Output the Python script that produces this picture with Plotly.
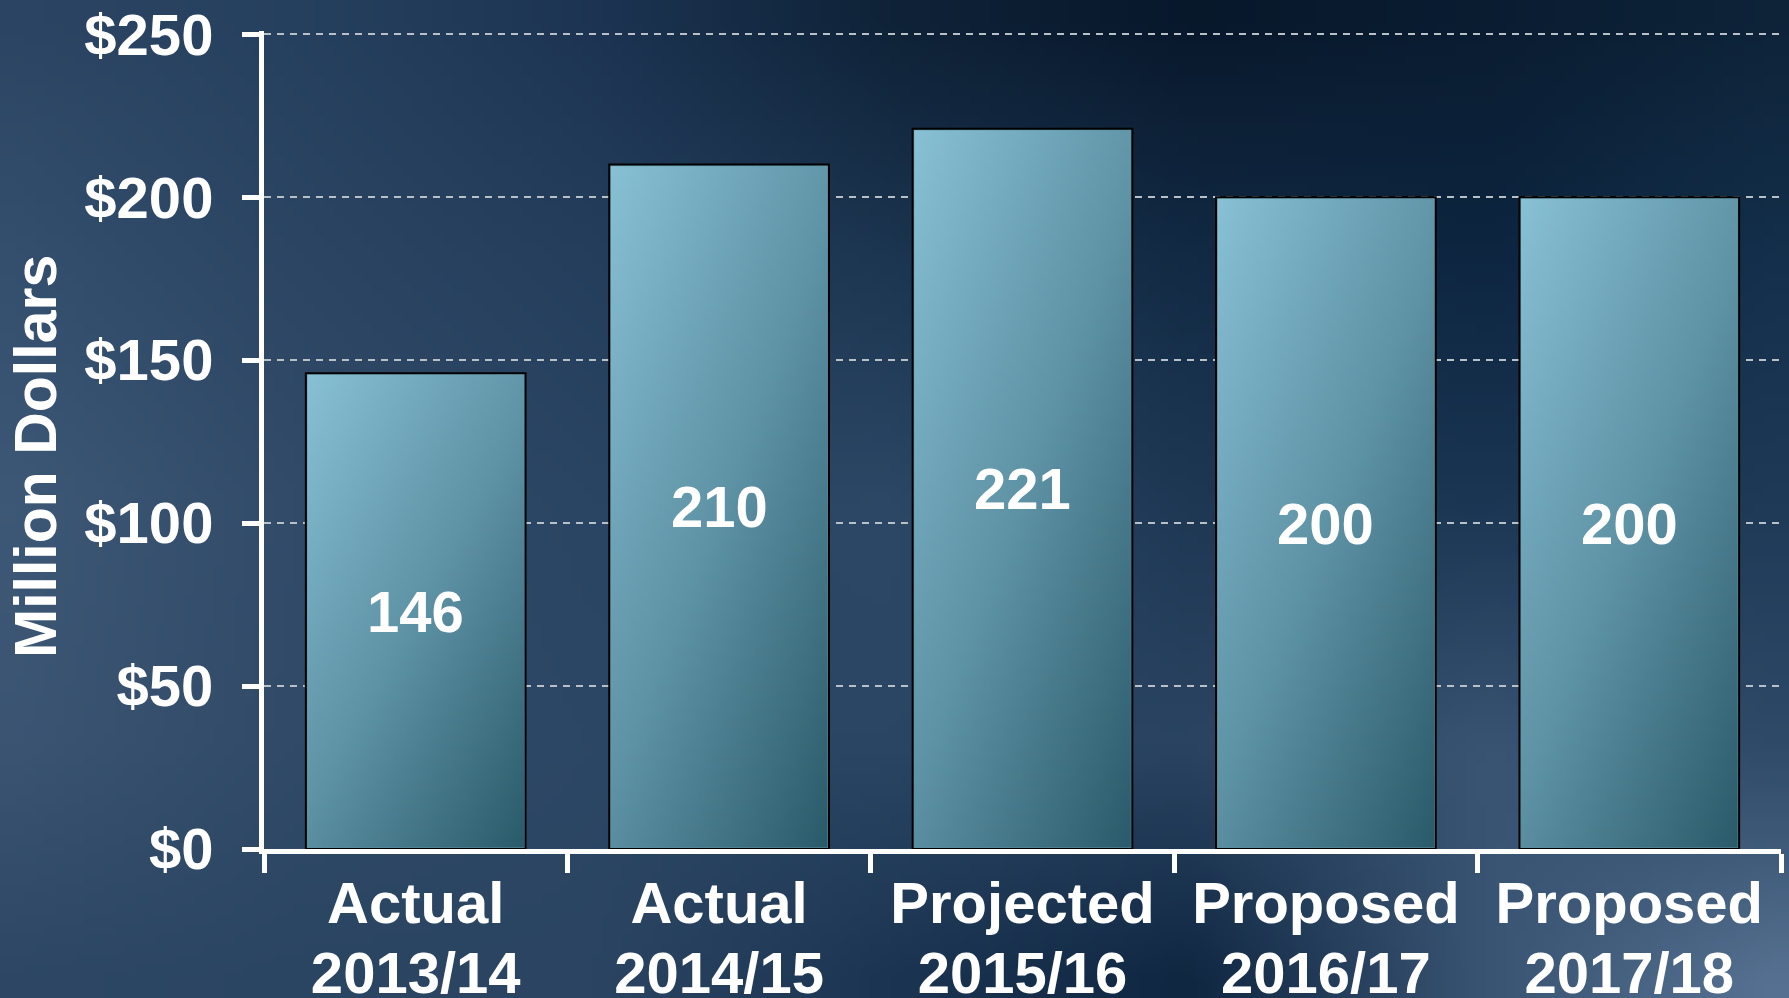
import base64
import struct
import zlib

import numpy as np
import plotly.graph_objects as go

# ---------------- data ----------------
categories = ["Actual<br>2013/14", "Actual<br>2014/15", "Projected<br>2015/16",
              "Proposed<br>2016/17", "Proposed<br>2017/18"]
values = [146, 210, 221, 200, 200]
y_tick_vals = [0, 50, 100, 150, 200, 250]
y_tick_text = ["$0", "$50", "$100", "$150", "$200", "$250"]
y_title = "Million Dollars"

# ---------------- layout constants ----------------
W, H = 1789, 998
Y_TOP = 251                      # a little headroom so the $250 gridline is drawn
ML, MR, MT, MB = 264, 8, 31, 149
PW, PH = W - ML - MR, H - MT - MB
BARGAP = 0.276
FONT = "Liberation Sans, Arial, sans-serif"
LABEL_PX = 58


def png_uri(arr):
    arr = np.clip(arr, 0, 255).astype(np.uint8)
    h, w, _ = arr.shape
    raw = b"".join(b"\x00" + arr[r].tobytes() for r in range(h))

    def chunk(tag, data):
        return (struct.pack(">I", len(data)) + tag + data
                + struct.pack(">I", zlib.crc32(tag + data) & 0xFFFFFFFF))

    png = (b"\x89PNG\r\n\x1a\n"
           + chunk(b"IHDR", struct.pack(">IIBBBBB", w, h, 8, 2, 0, 0, 0))
           + chunk(b"IDAT", zlib.compress(raw, 9))
           + chunk(b"IEND", b""))
    return "data:image/png;base64," + base64.b64encode(png).decode()


def hex2rgb(h):
    h = h.lstrip("#")
    return [int(h[i:i + 2], 16) for i in (0, 2, 4)]


# background texture (coarse colour grid, smoothly interpolated)
bg_grid = [
    ["#2c4463", "#25405e", "#1c3452", "#0e2136", "#08172a", "#0a1c30", "#0e2338"],
    ["#34506e", "#2b4563", "#243e5c", "#1c3550", "#122a44", "#0d2540", "#14304c"],
    ["#3e5877", "#314b69", "#2a4563", "#2c4866", "#1e3854", "#1a3653", "#1f3a57"],
    ["#3b5573", "#304a68", "#2c4765", "#2a4664", "#2a4461", "#3a5573", "#2e4a68"],
    ["#2c4663", "#2a4562", "#2a4461", "#1a3350", "#0e2540", "#3a5574", "#5a7595"],
]
G = np.array([[hex2rgb(c) for c in row] for row in bg_grid], dtype=float)
gr, gc = G.shape[:2]
bw, bh = 180, 100
xx = np.linspace(0, gc - 1, bw)
yy = np.linspace(0, gr - 1, bh)
tmp = np.stack([np.stack([np.interp(xx, np.arange(gc), G[r, :, c]) for c in range(3)], -1)
                for r in range(gr)])  # (gr, bw, 3)
bg = np.stack([np.stack([np.interp(yy, np.arange(gr), tmp[:, j, c]) for c in range(3)], -1)
               for j in range(bw)], 1)  # (bh, bw, 3)
for _ in range(4):
    bg = (np.roll(bg, 1, 0) + np.roll(bg, -1, 0) + np.roll(bg, 1, 1) + np.roll(bg, -1, 1) + bg) / 5
    bg[0], bg[-1], bg[:, 0], bg[:, -1] = bg[1], bg[-2], bg[:, 1], bg[:, -2]
bg_uri = png_uri(bg)

# bar gradient (light top-left -> dark bottom-right)
gw, gh = 48, 96
u = np.linspace(0, 1, gw)[None, :]
v = np.linspace(0, 1, gh)[:, None]
t = 0.45 * u + 0.55 * v
c0, c1, c2 = (np.array(hex2rgb(c), float) for c in ("#88c0d4", "#5f93a6", "#2b5c6c"))
tt = t[..., None]
grad = np.where(tt < 0.5, c0 + (c1 - c0) * (tt / 0.5), c1 + (c2 - c1) * ((tt - 0.5) / 0.5))
grad_uri = png_uri(grad)

fig = go.Figure()
fig.add_trace(go.Bar(
    x=categories, y=values,
    marker=dict(color="#5b90a3", line=dict(color="black", width=2)),
    hoverinfo="skip",
))

images = [dict(source=bg_uri, xref="paper", yref="paper",
               x=-ML / PW, y=1 + MT / PH, sizex=W / PW, sizey=H / PH,
               xanchor="left", yanchor="top", sizing="stretch", layer="below")]
inset_x = 1.5 / (PW / len(categories))
inset_y = 1.5 / (PH / Y_TOP)
for i, val in enumerate(values):
    images.append(dict(source=grad_uri, xref="x", yref="y",
                       x=i, y=val - inset_y,
                       sizex=(1 - BARGAP) - 2 * inset_x, sizey=val - 2 * inset_y,
                       xanchor="center", yanchor="top", sizing="stretch", layer="above"))

annotations = [dict(x=i, y=val / 2, xref="x", yref="y", text=str(val), showarrow=False,
                    font=dict(family=FONT, size=LABEL_PX, color="white", weight="bold"))
               for i, val in enumerate(values)]

# x tick labels: glyphs at 58px, line pitch based on a 54px base font (tighter, as in the original)
x_tick_text = ["<br>".join(f"<span style='font-size:{LABEL_PX}px'>{part}</span>"
                           for part in c.split("<br>")) for c in categories]

fig.update_layout(
    template="none",
    width=W, height=H, autosize=False,
    margin=dict(l=ML, r=MR, t=MT, b=MB, pad=0),
    paper_bgcolor="#1e3652", plot_bgcolor="rgba(0,0,0,0)",
    bargap=BARGAP, showlegend=False,
    images=images, annotations=annotations,
    font=dict(family=FONT, color="white"),
)
fig.update_xaxes(
    type="category", range=[-0.5, len(categories) - 0.5], automargin=False,
    tickvals=categories, ticktext=x_tick_text,
    showline=True, linecolor="white", linewidth=5,
    ticks="outside", tickson="boundaries", ticklen=19, tickwidth=5, tickcolor="white",
    ticklabelstandoff=4,
    tickfont=dict(family=FONT, size=54, color="white", weight="bold"),
    showgrid=False, zeroline=False,
)
fig.update_yaxes(
    range=[0, Y_TOP], tickvals=y_tick_vals, ticktext=y_tick_text, automargin=False,
    showline=True, linecolor="white", linewidth=5,
    ticks="outside", ticklen=17, tickwidth=5, tickcolor="white",
    ticklabelstandoff=17,
    tickfont=dict(family=FONT, size=LABEL_PX, color="white", weight="bold"),
    showgrid=True, gridcolor="#b8c0c8", gridwidth=2, griddash="7px,6px",
    zeroline=False,
    title=dict(text=y_title + "&nbsp;&nbsp;", standoff=10,
               font=dict(family=FONT, size=59, color="white", weight="bold")),
)

fig.write_html(
    "out.html",
    config={"displayModeBar": False},
    post_script="document.body.style.margin='0';document.body.style.overflow='hidden';",
)
